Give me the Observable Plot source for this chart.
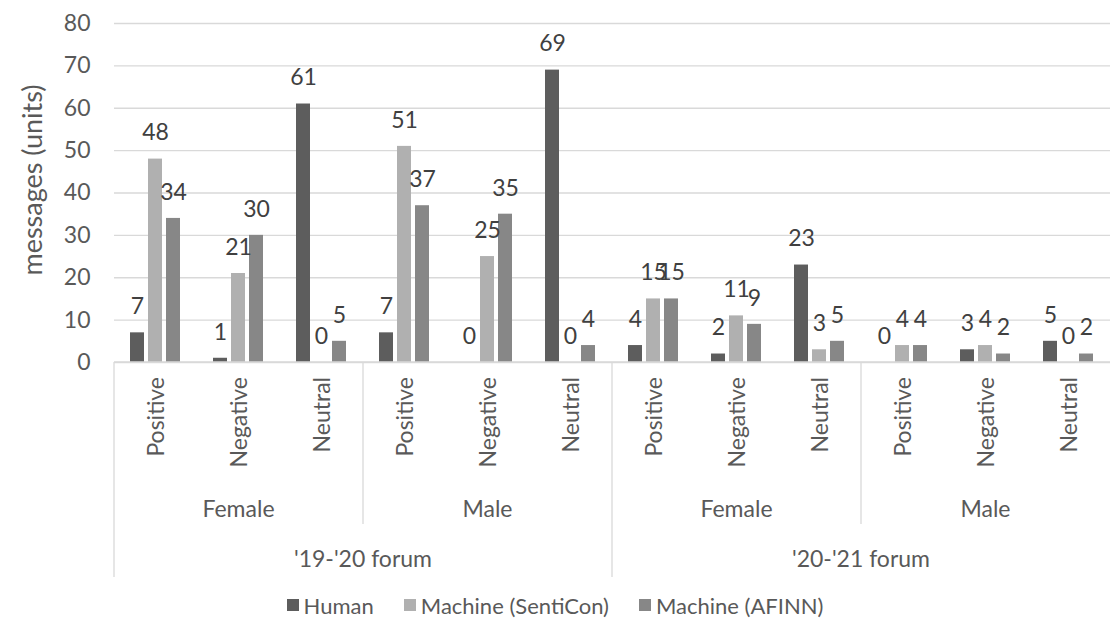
<!DOCTYPE html>
<html>
<head>
<meta charset="utf-8">
<script src="https://cdn.jsdelivr.net/npm/d3@7"></script>
<script src="https://cdn.jsdelivr.net/npm/@observablehq/plot@0.6"></script>
<style>
  html, body { margin: 0; padding: 0; background: #fff; }
  #chart { width: 1110px; }
  #legend { display: flex; justify-content: center; align-items: center; height: 30px;
    font-family: Lato, sans-serif; font-size: 22px; color: #595959; gap: 30px; }
  #legend .item { display: flex; align-items: center; gap: 5px; }
  #legend .sw { width: 12px; height: 12px; display: inline-block; }
</style>
</head>
<body>
<div id="chart"></div>
<div id="legend"></div>
<script>
const forums = ["'19-'20 forum", "'20-'21 forum"];
const genders = ["Female", "Male"];
const sentiments = ["Positive", "Negative", "Neutral"];
const seriesNames = ["Human", "Machine (SentiCon)", "Machine (AFINN)"];
// values in order: forum -> gender -> sentiment
const human    = [7, 1, 61,  7, 0, 69,  4, 2, 23,  0, 3, 5];
const senticon = [48, 21, 0, 51, 25, 0, 15, 11, 3, 4, 4, 0];
const afinn    = [34, 30, 5, 37, 35, 4, 15, 9, 5,  4, 2, 2];
const yTicks = [0, 10, 20, 30, 40, 50, 60, 70, 80];
const colors = ["#5d5d5d", "#b0b0b0", "#878787"];

const groups = [];
forums.forEach((f, fi) => genders.forEach((g, gi) => sentiments.forEach(s => {
  groups.push({key: `${fi}|${gi}|${s}`, forum: f, gender: g, sentiment: s});
})));
const seriesValues = [human, senticon, afinn];
const rows = [];
groups.forEach((grp, i) => seriesNames.forEach((name, si) => {
  rows.push({group: grp.key, series: name, value: seriesValues[si][i]});
}));

const plot = Plot.plot({
  width: 1110, height: 590,
  marginLeft: 114, marginRight: 0, marginTop: 23, marginBottom: 228,
  style: {fontFamily: "Lato, sans-serif", fontSize: "23px", color: "#595959", background: "white", overflow: "visible"},
  fx: {domain: groups.map(d => d.key), padding: 0, axis: null},
  x: {domain: seriesNames, paddingInner: 0.21, paddingOuter: 0.79, axis: null},
  y: {domain: [0, 80], axis: null},
  color: {domain: seriesNames, range: colors},
  marks: [
    Plot.ruleY(yTicks, {stroke: "#d9d9d9", strokeWidth: 1.3}),
    Plot.axisY({ticks: yTicks, tickSize: 0, tickPadding: 24, label: null, fontSize: 23, fill: "#595959"}),
    Plot.barY(rows, {fx: "group", x: "series", y: "value", fill: "series"}),
    Plot.text(rows, {fx: "group", x: "series", y: "value", text: d => String(d.value), dy: -26,
      fill: "#404040", fontSize: 23})
  ]
});
document.getElementById("chart").appendChild(plot);

// hierarchical category axis drawn from the fx scale
const fx = plot.scale("fx");
const bw = fx.bandwidth;
const y0 = 362;
const svg = d3.select(plot);
const g = svg.append("g").attr("font-family", "Lato, sans-serif").attr("font-size", 23).attr("fill", "#595959");
const lineColor = "#d9d9d9";
const left = fx.apply(groups[0].key);
const right = fx.apply(groups[groups.length - 1].key) + bw;
g.append("line").attr("x1", left).attr("x2", right).attr("y1", y0).attr("y2", y0)
  .attr("stroke", lineColor).attr("stroke-width", 1.3);
groups.forEach(grp => {
  const cx = fx.apply(grp.key) + bw / 2;
  g.append("text").attr("transform", `translate(${cx},${y0 + 15}) rotate(-90)`)
    .attr("text-anchor", "end").attr("dy", "0.35em").attr("font-size", 23).text(grp.sentiment);
});
// gender level
forums.forEach((f, fi) => genders.forEach((gname, gi) => {
  const keys = groups.filter(d => d.forum === f && d.gender === gname).map(d => d.key);
  const x1 = fx.apply(keys[0]), x2 = fx.apply(keys[keys.length - 1]) + bw;
  g.append("text").attr("x", (x1 + x2) / 2).attr("y", 509).attr("dy", "0.35em")
    .attr("text-anchor", "middle").text(gname);
  if (gi > 0) g.append("line").attr("x1", x1).attr("x2", x1).attr("y1", y0).attr("y2", 524)
    .attr("stroke", lineColor).attr("stroke-width", 1.3);
}));
// forum level
forums.forEach((f, fi) => {
  const keys = groups.filter(d => d.forum === f).map(d => d.key);
  const x1 = fx.apply(keys[0]), x2 = fx.apply(keys[keys.length - 1]) + bw;
  g.append("text").attr("x", (x1 + x2) / 2).attr("y", 559).attr("dy", "0.35em")
    .attr("text-anchor", "middle").text(f);
  g.append("line").attr("x1", x1).attr("x2", x1).attr("y1", y0).attr("y2", 577)
    .attr("stroke", lineColor).attr("stroke-width", 1.3);
});
// y axis title
g.append("text").attr("transform", "translate(33,180) rotate(-90)")
  .attr("text-anchor", "middle").attr("dy", "0.35em").attr("font-size", 27).text("messages (units)");

// legend
const legend = d3.select("#legend");
seriesNames.forEach((name, i) => {
  const it = legend.append("div").attr("class", "item");
  it.append("span").attr("class", "sw").style("background", colors[i]);
  it.append("span").text(name);
});
</script>
</body>
</html>
